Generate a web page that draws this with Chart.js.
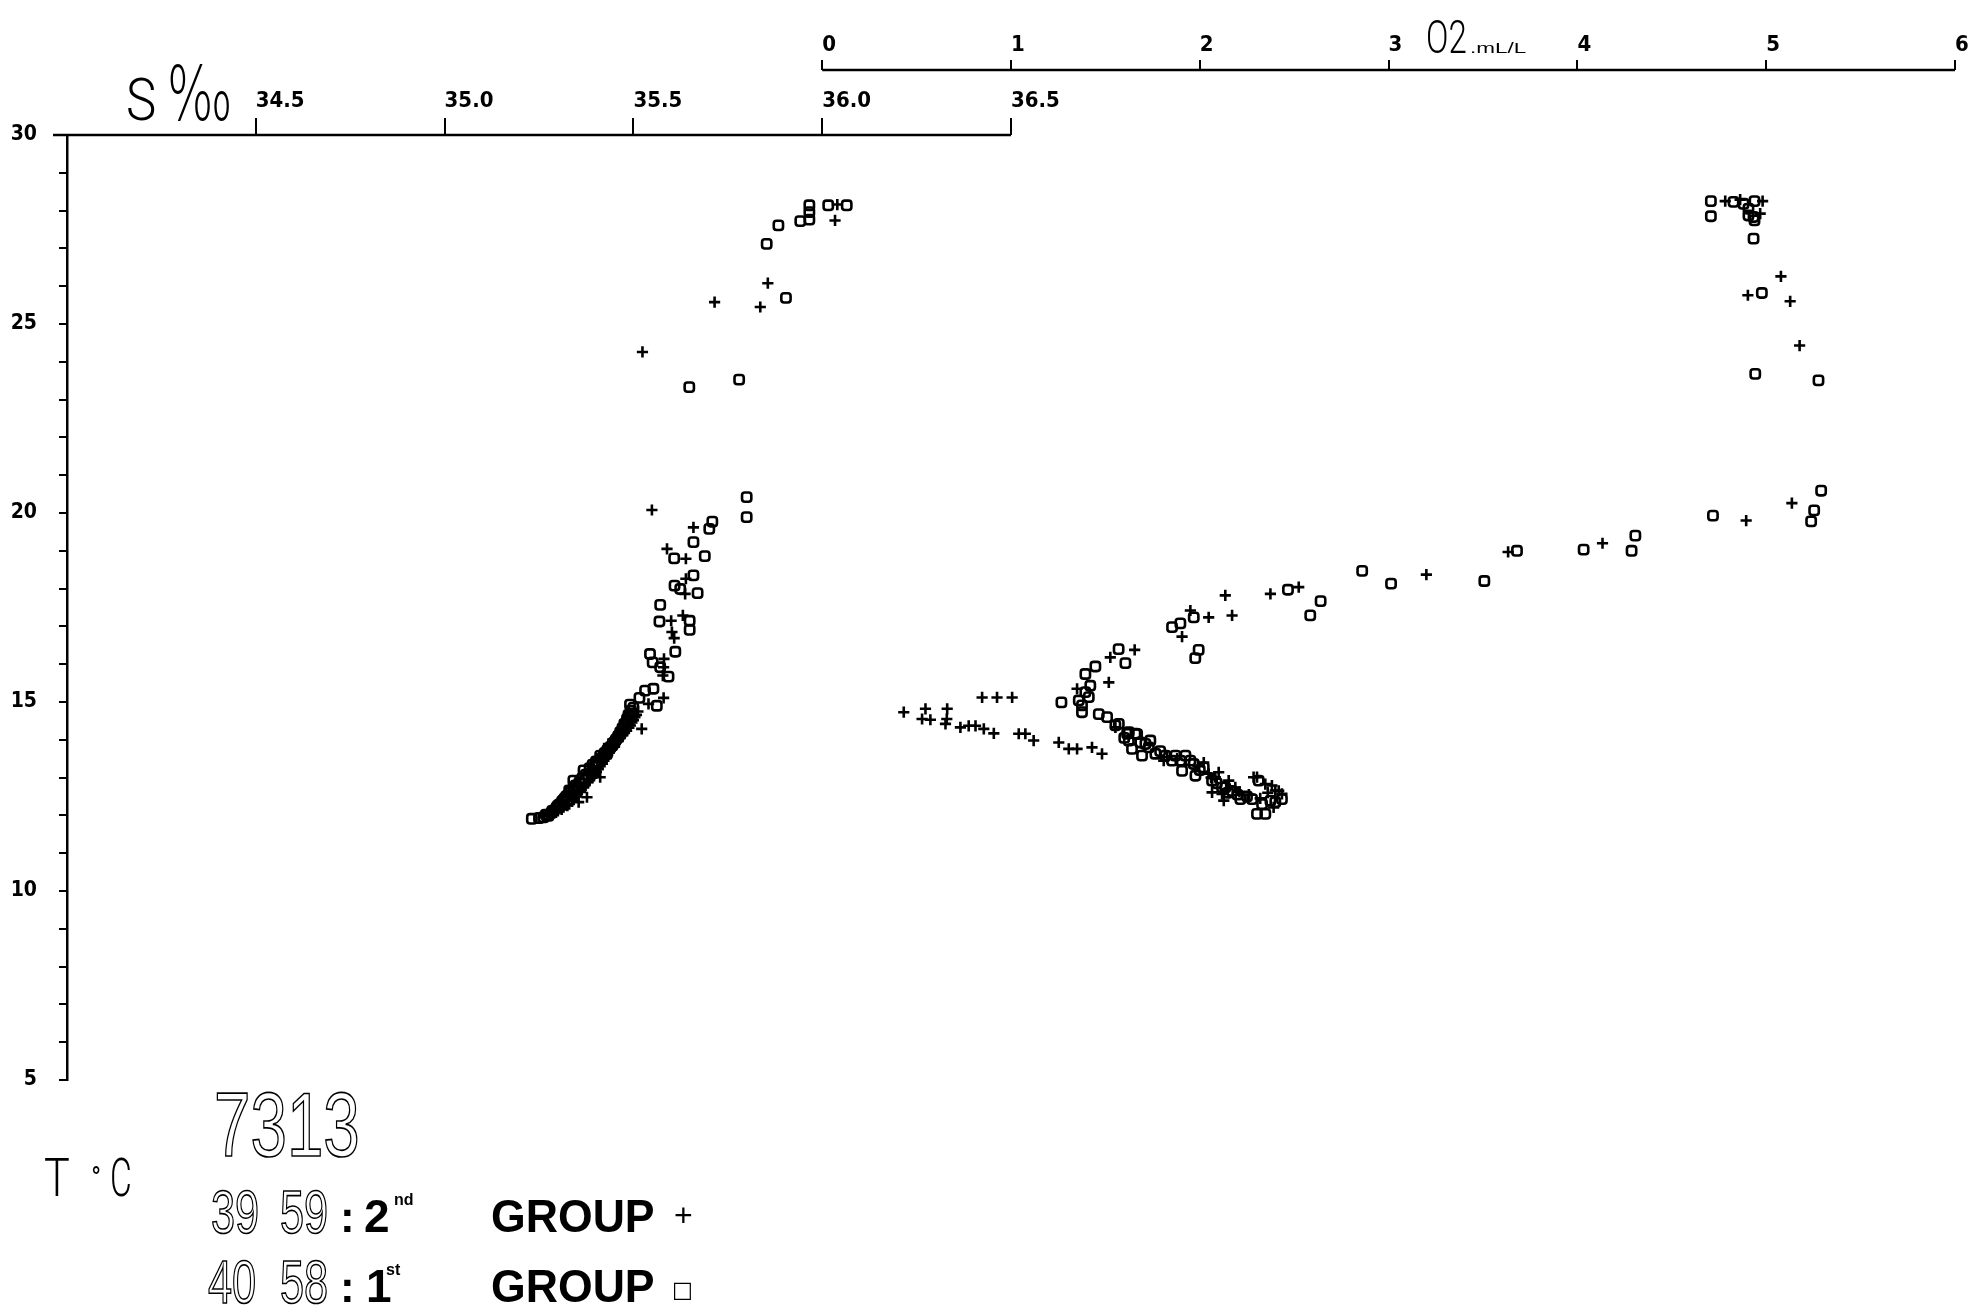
<!DOCTYPE html>
<html>
<head>
<meta charset="utf-8">
<script src="https://cdn.jsdelivr.net/npm/chart.js@4/dist/chart.umd.min.js"></script>
<style>
html,body{margin:0;padding:0;background:#fff;overflow:hidden}
canvas{display:block}
</style>
</head>
<body>
<canvas id="c" width="1974" height="1308"></canvas>
<script>
// ---- axis ticks ----
const tempTicks = [5,6,7,8,9,10,11,12,13,14,15,16,17,18,19,20,21,22,23,24,25,26,27,28,29,30];
const tempLabels = [5,10,15,20,25,30];
const salinityTicks = [34.5, 35.0, 35.5, 36.0, 36.5];
const oxygenTicks = [0, 1, 2, 3, 4, 5, 6];

// ---- salinity (per mille) vs temperature, 1st group (squares) ----
const salinityGroup1 = [
 [36.016,28.14],[36.065,28.14],[35.966,28.14],[35.966,27.96],[35.966,27.76],[35.942,27.72],
 [35.884,27.61],[35.853,27.12],[35.904,25.69],[35.648,23.33],[35.780,23.53],[35.800,20.42],
 [35.800,19.89],[35.709,19.77],[35.701,19.58],[35.659,19.23],[35.608,18.80],[35.689,18.86],
 [35.659,18.35],[35.609,18.08],[35.624,17.99],[35.670,17.88],[35.571,17.57],[35.569,17.13],
 [35.649,17.15],[35.649,16.91],[35.611,16.33],[35.544,16.27],[35.551,16.05],[35.593,15.67],
 [35.571,15.92],[35.531,15.30],[35.553,15.35],[35.562,14.90],[35.516,15.11],[35.491,14.93],
 [35.231,11.91],[35.262,11.95],[35.275,11.99],[35.282,12.06],[35.290,12.14],[35.297,12.22],
 [35.304,12.29],[35.311,12.37],[35.318,12.45],[35.326,12.53],[35.333,12.61],[35.341,12.70],
 [35.347,12.79],[35.341,12.92],[35.357,12.88],[35.364,12.98],[35.368,13.19],[35.374,13.08],
 [35.384,13.25],[35.392,13.34],[35.401,13.43],[35.412,13.58],[35.414,13.50],[35.424,13.65],
 [35.431,13.73],[35.440,13.82],[35.447,13.92],[35.454,14.01],[35.460,14.10],[35.465,14.20],
 [35.471,14.31],[35.476,14.42],[35.483,14.55],[35.487,14.66],[35.493,14.77],[35.500,14.85],
 [35.250,11.93],[35.268,12.02],[35.285,12.12],[35.300,12.26],[35.314,12.40],[35.322,12.50],
 [35.330,12.66],[35.352,12.75],[35.360,12.84],[35.372,12.95],[35.380,13.05],[35.390,13.15],
 [35.398,13.28],[35.405,13.38],[35.420,13.55],[35.430,13.62],[35.437,13.78],[35.445,13.86],
 [35.452,13.97],[35.458,14.05],[35.466,14.15],[35.472,14.24],[35.480,14.36],[35.485,14.48],
 [35.492,14.60],[35.497,14.70]
];
// ---- salinity vs temperature, 2nd group (crosses) ----
const salinityGroup2 = [
 [36.040,28.16],[36.034,27.74],[35.856,26.08],[35.715,25.58],[35.836,25.45],[35.524,24.26],
 [35.549,20.08],[35.659,19.62],[35.589,19.05],[35.639,18.79],[35.639,18.26],[35.637,17.86],
 [35.600,17.15],[35.631,17.29],[35.602,16.85],[35.608,16.69],[35.581,16.14],[35.580,15.92],
 [35.578,15.70],[35.540,14.95],[35.580,15.11],[35.522,14.29],
 [35.262,11.97],[35.285,12.03],[35.300,12.12],[35.315,12.22],[35.330,12.30],[35.355,12.35],
 [35.377,12.48],[35.342,12.42],[35.352,12.56],[35.362,12.68],[35.372,12.80],[35.384,12.93],
 [35.412,13.01],[35.396,13.08],[35.407,13.22],[35.418,13.37],[35.428,13.52],[35.436,13.66],
 [35.434,13.89],[35.450,13.82],[35.460,13.97],[35.472,14.12],[35.482,14.24],[35.492,14.38],
 [35.500,14.52],[35.508,14.66],
 [35.278,12.00],[35.295,12.08],[35.310,12.16],[35.325,12.26],[35.338,12.38],[35.348,12.50],
 [35.360,12.62],[35.368,12.74],[35.380,12.88],[35.390,13.00],[35.402,13.15],[35.412,13.30],
 [35.422,13.45],[35.432,13.60],[35.442,13.74],[35.452,13.90],[35.465,14.05],[35.476,14.18],
 [35.488,14.32],[35.496,14.46],[35.504,14.60],[35.512,14.75]
];
// ---- oxygen (ml/L) vs temperature, 1st group (squares) ----
const oxygenGroup1 = [
 [1.376,14.73],[1.465,14.68],[1.509,14.60],[1.553,14.38],[1.571,14.42],[1.624,14.20],
 [1.668,14.15],[1.624,13.98],[1.685,13.93],[1.738,13.98],[1.641,13.76],[1.694,13.58],
 [1.765,13.63],[1.818,13.58],[1.853,13.45],[1.871,13.58],[1.897,13.45],[1.924,13.58],
 [1.906,13.18],[1.968,13.36],[1.977,13.05],[2.021,13.27],[2.065,12.92],[2.118,12.74],
 [2.135,12.74],[2.171,12.65],[2.215,12.43],[2.277,12.43],[2.312,12.92],[2.303,12.04],
 [2.347,12.04],[2.374,12.39],[2.435,12.43],[1.712,13.89],[1.615,14.16],[1.659,14.16],
 [1.600,14.05],[1.730,13.80],[1.790,13.70],[1.950,13.45],[2.000,13.20],[2.090,12.85],
 [2.150,12.60],[2.200,12.55],[2.250,12.50],[2.330,12.30],[2.400,12.35],
 [1.267,14.99],[1.359,15.04],[1.376,14.91],[1.394,15.26],[1.412,15.13],[1.420,15.43],
 [1.394,15.74],[1.447,15.94],[1.570,16.40],[1.606,16.03],[1.853,16.98],[1.897,17.08],
 [1.968,17.24],[1.994,16.38],[1.976,16.16],[2.467,17.97],[2.585,17.29],[2.640,17.67],
 [2.860,18.47],[3.013,18.13],[3.507,18.20],[3.680,19.00],[4.033,19.03],[4.287,19.00],
 [4.307,19.40],[4.718,19.93],[5.238,19.78],[5.254,20.07],[5.291,20.59],[5.277,23.51],
 [4.942,23.68],[4.977,25.82],[4.933,27.26],[4.938,27.74],[4.933,27.83],[4.906,27.87],
 [4.906,28.05],[4.880,28.18],[4.938,28.25],[4.827,28.23],[4.707,28.25],[4.707,27.85]
];
// ---- oxygen vs temperature, 2nd group (crosses) ----
const oxygenGroup2 = [
 [0.432,14.73],[0.547,14.82],[0.529,14.55],[0.573,14.53],[0.662,14.82],[0.653,14.42],
 [0.660,14.55],[0.732,14.33],[0.776,14.37],[0.812,14.37],[0.856,14.29],[0.909,14.17],
 [0.847,15.12],[0.926,15.12],[1.006,15.12],[1.041,14.16],[1.076,14.16],[1.120,13.98],
 [1.253,13.93],[1.306,13.76],[1.350,13.76],[1.429,13.80],[1.482,13.63],
 [1.553,14.33],[1.809,13.45],[1.827,13.54],[2.021,13.40],[2.047,13.10],[2.082,13.01],
 [2.100,13.14],[2.065,12.61],[2.118,12.57],[2.127,12.39],[2.153,12.92],[2.188,12.74],
 [2.285,13.01],[2.303,13.01],[2.347,12.83],[2.382,12.79],[2.400,12.66],[2.418,12.65],
 [2.391,12.21],[2.435,12.57],
 [1.880,13.50],[1.990,13.30],[2.060,13.00],[2.140,12.70],[2.210,12.62],[2.260,12.55],
 [2.320,12.45],[2.360,12.60],
 [1.350,15.35],[1.518,15.52],[1.526,16.18],[1.655,16.38],[1.906,16.73],[1.950,17.42],
 [2.047,17.24],[2.135,17.82],[2.171,17.29],[2.374,17.86],[2.524,18.04],[3.200,18.37],
 [3.633,18.97],[4.133,19.20],[4.894,19.80],[5.136,20.26],[5.177,24.43],[5.127,25.60],
 [4.903,25.76],[5.078,26.26],[4.968,27.92],[4.981,28.25],[4.862,28.29],[4.783,28.25]
];

const toPoints = arr => arr.map(([x, y]) => ({x, y}));
const NARROW = "'Liberation Sans Narrow','DejaVu Sans Condensed','Liberation Sans',sans-serif";

const squareStyle = {
  pointStyle: 'rectRounded', pointRadius: 5.4, pointBorderWidth: 2.6,
  pointBorderColor: '#000', pointBackgroundColor: 'rgba(0,0,0,0)', showLine: false
};
const crossStyle = {
  pointStyle: 'cross', pointRadius: 5.6, pointBorderWidth: 2.6,
  pointBorderColor: '#000', pointBackgroundColor: '#000', showLine: false
};

const axisLines = {
  id: 'axisLines',
  afterDraw(chart) {
    const ctx = chart.ctx;
    const xs = chart.scales.xs, xo = chart.scales.xo;
    ctx.save();
    ctx.strokeStyle = '#000';
    ctx.lineWidth = 2.5;
    ctx.beginPath();
    ctx.moveTo(chart.chartArea.left - 14, xs.bottom);
    ctx.lineTo(xs.getPixelForValue(salinityTicks[salinityTicks.length - 1]), xs.bottom);
    ctx.stroke();
    ctx.beginPath();
    ctx.moveTo(xo.getPixelForValue(oxygenTicks[0]), xo.bottom);
    ctx.lineTo(xo.getPixelForValue(oxygenTicks[oxygenTicks.length - 1]), xo.bottom);
    ctx.stroke();
    ctx.restore();
  }
};

const annotations = {
  id: 'annotations',
  afterDraw(chart) {
    const ctx = chart.ctx;
    ctx.save();
    ctx.fillStyle = '#000';
    ctx.strokeStyle = '#000';
    ctx.textBaseline = 'alphabetic';
    ctx.textAlign = 'left';
    const txt = (s, x, y, font, sx, stroke, lw) => {
      ctx.save();
      ctx.font = font;
      ctx.translate(x, y);
      ctx.scale(sx, 1);
      if (stroke) { ctx.lineWidth = lw || 1.5; ctx.strokeText(s, 0, 0); }
      else ctx.fillText(s, 0, 0);
      ctx.restore();
    };
    const thin = "300 {s}px Roboto, 'Liberation Sans', sans-serif";
    const f = (tpl, s) => tpl.replace('{s}', s);
    // salinity axis title
    txt('S', 126, 120, f(thin, 60), 0.85);
    txt('\u2030', 167, 120, "200 74px 'DejaVu Sans', sans-serif", 0.66);
    // oxygen axis title
    txt('O2', 1426, 53, f(thin, 46), 0.72);
    txt('.mL/L', 1470, 53, "15px 'Liberation Sans', sans-serif", 1.5);
    // temperature axis title
    txt('T', 44, 1196, f(thin, 54), 0.8);
    txt('\u00B0', 92, 1184, "bold 26px 'Liberation Sans', sans-serif", 0.8);
    txt('C', 110, 1196, f(thin, 54), 0.62);
    // station number
    const outline = "400 {s}px 'Liberation Sans', sans-serif";
    txt('7313', 214, 1156, f(outline, 91), 0.72, true, 1.7);
    // group lines
    const bold = "bold {s}px 'Liberation Sans', sans-serif";
    txt('39', 211, 1233, f(outline, 61), 0.71, true, 1.6);
    txt('59', 280, 1233, f(outline, 61), 0.71, true, 1.6);
    txt(':', 340, 1232, f(bold, 44), 1);
    txt('2', 364, 1232, f(bold, 46), 1);
    txt('nd', 394, 1205, f(bold, 16), 1);
    txt('GROUP', 491, 1232, f(bold, 46), 0.97);
    txt('+', 674, 1226, "300 32px 'Liberation Sans', sans-serif", 1);
    txt('40', 208, 1303, f(outline, 61), 0.71, true, 1.6);
    txt('58', 280, 1303, f(outline, 61), 0.71, true, 1.6);
    txt(':', 340, 1302, f(bold, 44), 1);
    txt('1', 366, 1302, f(bold, 46), 1);
    txt('st', 386, 1275, f(bold, 16), 1);
    txt('GROUP', 491, 1302, f(bold, 46), 0.97);
    txt('\u25A1', 672, 1297, "22px 'DejaVu Sans', sans-serif", 1);
    ctx.restore();
  }
};

new Chart(document.getElementById('c'), {
  type: 'scatter',
  data: {
    datasets: [
      Object.assign({label: '1st group S', data: toPoints(salinityGroup1), xAxisID: 'xs', yAxisID: 'y'}, squareStyle),
      Object.assign({label: '2nd group S', data: toPoints(salinityGroup2), xAxisID: 'xs', yAxisID: 'y'}, crossStyle),
      Object.assign({label: '1st group O2', data: toPoints(oxygenGroup1), xAxisID: 'xo', yAxisID: 'y'}, squareStyle),
      Object.assign({label: '2nd group O2', data: toPoints(oxygenGroup2), xAxisID: 'xo', yAxisID: 'y'}, crossStyle)
    ]
  },
  options: {
    responsive: false,
    animation: false,
    devicePixelRatio: 1,
    layout: {padding: {left: 0, right: 19, top: 0, bottom: 228}},
    plugins: {legend: {display: false}, tooltip: {enabled: false}},
    scales: {
      y: {
        type: 'linear', position: 'left', min: 5, max: 30,
        afterBuildTicks: s => { s.ticks = tempTicks.map(v => ({value: v})); },
        afterFit: s => { s.width = 67; },
        ticks: {
          autoSkip: false, color: '#000', padding: 22,
          font: {family: NARROW, size: 21, weight: 'bold'},
          callback: v => tempLabels.includes(v) ? String(v) : ''
        },
        grid: {drawOnChartArea: false, drawTicks: true, tickLength: 8, color: '#000', lineWidth: 2},
        border: {display: true, color: '#000', width: 2.5}
      },
      xs: {
        type: 'linear', position: 'top', min: 34, max: 39, weight: 0,
        afterBuildTicks: s => { s.ticks = salinityTicks.map(v => ({value: v})); },
        afterFit: s => { s.height = 65; },
        ticks: {
          autoSkip: false, maxRotation: 0, align: 'start', color: '#000', padding: 4,
          font: {family: NARROW, size: 22, weight: 'bold'},
          callback: v => v.toFixed(1)
        },
        grid: {drawOnChartArea: false, drawTicks: true, tickLength: 17, color: '#000', lineWidth: 2},
        border: {display: false}
      },
      xo: {
        type: 'linear', position: 'top', min: -4, max: 6, weight: 1,
        afterBuildTicks: s => { s.ticks = oxygenTicks.map(v => ({value: v})); },
        afterFit: s => { s.height = 70; },
        ticks: {
          autoSkip: false, maxRotation: 0, align: 'start', color: '#000', padding: 2,
          font: {family: NARROW, size: 22, weight: 'bold'},
          callback: v => String(v)
        },
        grid: {drawOnChartArea: false, drawTicks: true, tickLength: 10, color: '#000', lineWidth: 2},
        border: {display: false}
      }
    }
  },
  plugins: [axisLines, annotations]
});
</script>
</body>
</html>
